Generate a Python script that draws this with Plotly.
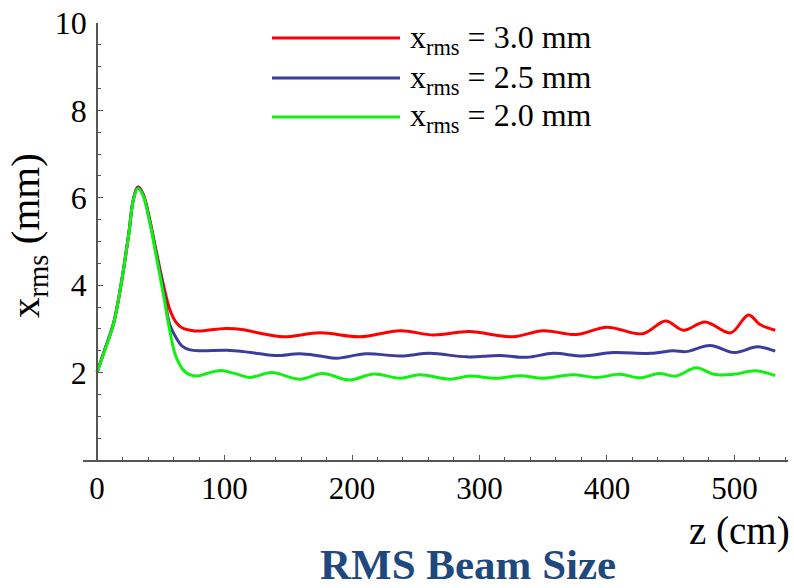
import plotly.graph_objects as go

# ---- data ----
z_common = [0, 6, 13, 19, 25, 28.5, 32, 36, 41.5]
v_common_red = [2.0, 2.52, 3.13, 4.04, 5.2, 5.97, 6.25, 6.1, 5.48]
v_common_blue = [2.0, 2.52, 3.13, 4.04, 5.2, 5.96, 6.23, 6.08, 5.45]
v_common_green = [2.0, 2.5, 3.12, 4.04, 5.19, 5.95, 6.21, 6.06, 5.42]

z_red = [47, 52, 57, 62, 67, 73, 80, 101, 115, 128, 146, 175, 206, 238, 264, 292,
         326, 350, 376, 400, 428, 446, 460, 477, 497, 511, 520, 532]
v_red = [4.7, 4.02, 3.45, 3.15, 3.02, 2.97, 2.95, 3.01, 2.98, 2.9, 2.82, 2.91, 2.82,
         2.96, 2.86, 2.94, 2.82, 2.96, 2.87, 3.04, 2.89, 3.18, 2.97, 3.16, 2.91, 3.32,
         3.1, 2.97]

z_blue = [47, 52, 57, 62, 67, 73, 81, 102, 115, 128, 141, 159, 175, 188, 211, 238,
          261, 290, 316, 337, 358, 381, 405, 434, 452, 462, 481, 500, 518, 532]
v_blue = [4.64, 3.92, 3.1, 2.8, 2.6, 2.52, 2.5, 2.51, 2.48, 2.43, 2.39, 2.43, 2.38,
          2.33, 2.43, 2.38, 2.44, 2.36, 2.39, 2.35, 2.44, 2.38, 2.46, 2.44, 2.5, 2.48,
          2.62, 2.46, 2.59, 2.49]

z_green = [47, 52, 57, 62, 69, 78, 86, 97, 109, 120, 137, 159, 177, 198, 217, 238,
           253, 277, 292, 313, 332, 350, 373, 392, 410, 426, 441, 454, 470, 484, 499,
           517, 532]
v_green = [4.58, 3.8, 2.97, 2.36, 2.02, 1.92, 1.98, 2.05, 1.97, 1.89, 2.0, 1.85, 1.98,
           1.83, 1.97, 1.87, 1.95, 1.85, 1.92, 1.87, 1.93, 1.87, 1.95, 1.89, 1.96, 1.88,
           1.98, 1.92, 2.11, 1.96, 1.96, 2.04, 1.93]

series_names = ["x<sub>rms</sub> = 3.0 mm", "x<sub>rms</sub> = 2.5 mm", "x<sub>rms</sub> = 2.0 mm"]
series_colors = ["#ff0000", "#3c3c9c", "#12f012"]

x_ticks = [0, 100, 200, 300, 400, 500]
y_ticks = [2, 4, 6, 8, 10]

title_text = "<b>RMS Beam Size</b>"
x_title = "z (cm)"
y_title = "x<sub>rms</sub> (mm)"

# ---- layout geometry ----
W, H = 794, 588
ML, MR, MT, MB = 83, 6, 23, 128
XR = [-11, 542]
YR = [0, 10]
PW = W - ML - MR
PH = H - MT - MB


def px_x(p):
    return (p - ML) / PW


def px_y(p):
    return (H - MB - p) / PH


FONT = "Liberation Serif, Times New Roman, serif"

fig = go.Figure()
zs = [z_common + z_red, z_common + z_blue, z_common + z_green]
vs = [v_common_red + v_red, v_common_blue + v_blue, v_common_green + v_green]
for name, col, zz, vv in zip(series_names, series_colors, zs, vs):
    fig.add_trace(go.Scatter(x=zz, y=vv, mode="lines", name=name,
                             line=dict(color=col, width=3, shape="spline", smoothing=1.0),
                             showlegend=False, hoverinfo="skip"))

# custom legend (long line samples)
leg_y = [38, 78, 117]
for name, col, ly in zip(series_names, series_colors, leg_y):
    fig.add_shape(type="line", xref="paper", yref="paper",
                  x0=px_x(272), x1=px_x(400), y0=px_y(ly), y1=px_y(ly),
                  line=dict(color=col, width=3))
    fig.add_annotation(xref="paper", yref="paper", x=px_x(408), y=px_y(ly + 1),
                       xanchor="left", yanchor="middle", showarrow=False,
                       text=name, font=dict(family=FONT, size=32, color="black"))

axis_col = "#555555"
fig.update_xaxes(range=XR, showgrid=False, zeroline=False,
                 showline=True, linecolor=axis_col, linewidth=1.5,
                 ticks="inside", ticklen=5, tickwidth=1.2, tickcolor=axis_col,
                 tickvals=x_ticks, ticktext=[str(t) for t in x_ticks],
                 tickfont=dict(family=FONT, size=31, color="black"),
                 minor=dict(tickmode="linear", tick0=0, dtick=20, ticks="inside",
                            ticklen=3, tickwidth=1, tickcolor=axis_col))
fig.update_yaxes(range=YR, showgrid=False, zeroline=False,
                 anchor="free", position=px_x(97),
                 showline=True, linecolor=axis_col, linewidth=1.5,
                 ticks="inside", ticklen=5, tickwidth=1.2, tickcolor=axis_col,
                 tickvals=y_ticks, ticktext=[str(t) for t in y_ticks],
                 ticklabelstandoff=3,
                 tickfont=dict(family=FONT, size=32, color="black"),
                 minor=dict(tickmode="linear", tick0=0, dtick=0.5, ticks="inside",
                            ticklen=3, tickwidth=1, tickcolor=axis_col))

fig.add_annotation(xref="paper", yref="paper", x=px_x(739), y=px_y(531),
                   xanchor="center", yanchor="middle", showarrow=False,
                   text=x_title, font=dict(family=FONT, size=39, color="black"))
fig.add_annotation(xref="paper", yref="paper", x=px_x(28), y=px_y(236),
                   xanchor="center", yanchor="middle", showarrow=False, textangle=-90,
                   text=y_title, font=dict(family=FONT, size=41, color="black"))
fig.add_annotation(xref="paper", yref="paper", x=px_x(468), y=px_y(564),
                   xanchor="center", yanchor="middle", showarrow=False,
                   text=title_text, font=dict(family=FONT, size=43, color="#1F497D"))

fig.update_layout(width=W, height=H, margin=dict(l=ML, r=MR, t=MT, b=MB),
                  paper_bgcolor="white", plot_bgcolor="white", showlegend=False)

fig.write_html("out.html")
